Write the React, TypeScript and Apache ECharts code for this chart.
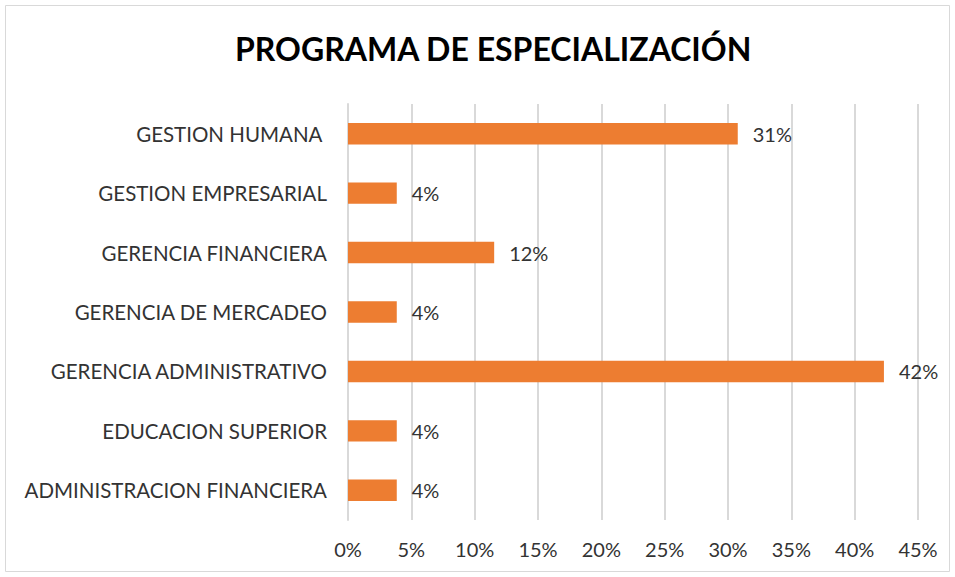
import React, { useEffect, useRef } from "react";
import * as echarts from "echarts";

const categories = [
  "GESTION HUMANA ",
  "GESTION EMPRESARIAL",
  "GERENCIA FINANCIERA",
  "GERENCIA DE MERCADEO",
  "GERENCIA ADMINISTRATIVO",
  "EDUCACION SUPERIOR",
  "ADMINISTRACION FINANCIERA",
];
const values = [0.3077, 0.0385, 0.1154, 0.0385, 0.4231, 0.0385, 0.0385];
const title = "PROGRAMA DE ESPECIALIZACIÓN";

const FONT = "Lato";

export default function App() {
  const ref = useRef<HTMLDivElement>(null);
  useEffect(() => {
    if (!ref.current) return;
    const chart = echarts.init(ref.current, undefined, { renderer: "svg" });
    chart.setOption({
      animation: false,
      backgroundColor: "#fff",
      graphic: [
        {
          type: "rect",
          shape: { x: 5.5, y: 5.5, width: 944, height: 566 },
          style: { fill: "none", stroke: "#d9d9d9", lineWidth: 1 },
        },
      ],
      title: {
        text: title,
        left: 230,
        top: 27,
        textStyle: { fontFamily: FONT, fontWeight: "bold", fontSize: 32, color: "#000" },
      },
      grid: { left: 348, right: 37, top: 104, bottom: 57, containLabel: false },
      xAxis: {
        type: "value",
        min: 0,
        max: 0.45,
        interval: 0.05,
        axisLine: { show: false },
        axisTick: { show: false },
        splitLine: { show: true, lineStyle: { color: "#d9d9d9", width: 2 } },
        axisLabel: {
          formatter: (v: number) => `${Math.round(v * 100)}%`,
          fontFamily: FONT,
          fontSize: 20,
          color: "#333",
          margin: 19,
        },
      },
      yAxis: {
        type: "category",
        data: categories,
        inverse: true,
        axisLine: { show: true, lineStyle: { color: "#d9d9d9", width: 2 } },
        axisTick: { show: false },
        axisLabel: { fontFamily: FONT, fontSize: 20.5, color: "#333", margin: 21 },
      },
      series: [
        {
          type: "bar",
          data: values,
          barCategoryGap: "64%",
          itemStyle: { color: "#ED7D31" },
          label: {
            show: true,
            position: "right",
            distance: 15,
            formatter: (p: any) => `${Math.round(p.value * 100)}%`,
            fontFamily: FONT,
            fontSize: 20,
            color: "#333",
          },
        },
      ],
    });
    return () => chart.dispose();
  }, []);
  return (
    <div
      ref={ref}
      style={{ position: "absolute", left: 0, top: 0, width: 955, height: 577 }}
    />
  );
}
